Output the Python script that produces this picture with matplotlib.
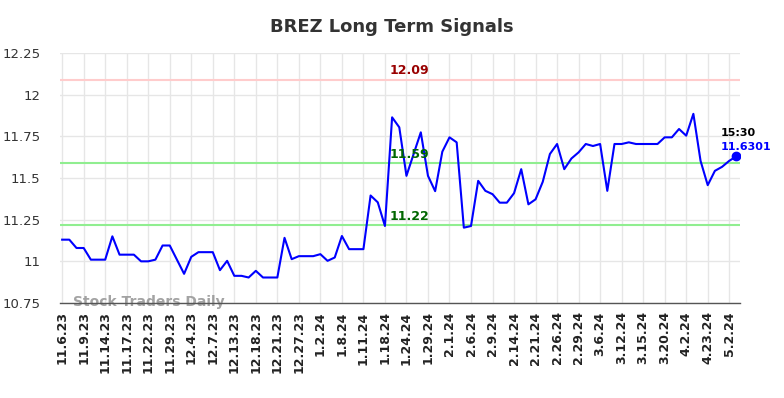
import matplotlib
matplotlib.use("Agg")
import matplotlib.pyplot as plt
from matplotlib.ticker import FuncFormatter

title = "BREZ Long Term Signals"
prices = [
    11.13, 11.13, 11.08, 11.08, 11.01, 11.01, 11.01, 11.15, 11.04, 11.04,
    11.04, 11.00, 11.00, 11.01, 11.095, 11.095, 11.01, 10.925, 11.027, 11.055,
    11.055, 11.055, 10.947, 11.003, 10.913, 10.913, 10.903, 10.943, 10.903, 10.903,
    10.903, 11.141, 11.013, 11.031, 11.031, 11.031, 11.043, 11.003, 11.023, 11.152,
    11.073, 11.073, 11.073, 11.395, 11.354, 11.212, 11.864, 11.804, 11.513, 11.644,
    11.774, 11.513, 11.421, 11.658, 11.744, 11.714, 11.202, 11.212, 11.483, 11.423,
    11.403, 11.352, 11.352, 11.409, 11.553, 11.342, 11.372, 11.477, 11.644, 11.704,
    11.553, 11.617, 11.654, 11.704, 11.692, 11.704, 11.423, 11.704, 11.704, 11.714,
    11.704, 11.704, 11.704, 11.704, 11.744, 11.744, 11.794, 11.754, 11.885, 11.603,
    11.457, 11.543, 11.567, 11.603, 11.6301,
]
tick_labels = [
    "11.6.23", "11.9.23", "11.14.23", "11.17.23", "11.22.23", "11.29.23",
    "12.4.23", "12.7.23", "12.13.23", "12.18.23", "12.21.23", "12.27.23",
    "1.2.24", "1.8.24", "1.11.24", "1.18.24", "1.24.24", "1.29.24",
    "2.1.24", "2.6.24", "2.9.24", "2.14.24", "2.21.24", "2.26.24",
    "2.29.24", "3.6.24", "3.12.24", "3.15.24", "3.20.24", "4.2.24",
    "4.23.24", "5.2.24",
]
tick_step = 3
resistance = 12.09
supports = [11.59, 11.22]
last_time = "15:30"
last_value_label = "11.6301"
y_ticks = [10.75, 11.0, 11.25, 11.5, 11.75, 12.0, 12.25]

fig = plt.figure(figsize=(7.84, 3.98), dpi=100)
ax = fig.add_axes([60 / 784, 1 - 303 / 398, 680 / 784, 250 / 398])

x = list(range(len(prices)))
ax.set_xlim(-0.3, len(prices) - 0.5)
ax.set_ylim(y_ticks[0], y_ticks[-1])

ax.set_yticks(y_ticks)
ax.yaxis.set_major_formatter(FuncFormatter(lambda v, p: f"{v:g}"))
ticks = [i * tick_step for i in range(len(tick_labels))]
ax.set_xticks(ticks)
ax.set_xticklabels(tick_labels, rotation=90, fontweight="bold", fontsize=9, color="#222222")
ax.tick_params(axis="y", labelsize=9.5, colors="#333333", length=0, pad=14)
ax.tick_params(axis="x", length=0, pad=6)

ax.grid(True, color="#e6e6e6", linewidth=1)
ax.set_axisbelow(True)
for s in ["top", "right", "left"]:
    ax.spines[s].set_visible(False)
ax.spines["bottom"].set_color("#555555")
ax.spines["bottom"].set_linewidth(1)

ax.axhline(resistance, color="#ffcccc", linewidth=1.5, zorder=1)
for s in supports:
    ax.axhline(s, color="#90ee90", linewidth=1.5, zorder=1)

ax.plot(x, prices, color="blue", linewidth=1.5, zorder=3)
ax.plot(x[-1], prices[-1], "o", color="blue", markersize=6, zorder=4)

label_x = 45.6
ax.text(label_x, resistance + 0.015, f"{resistance:.2f}", color="#990000",
        fontweight="bold", fontsize=9, ha="left", va="bottom")
for s in supports:
    ax.text(label_x, s + 0.012, f"{s:.2f}", color="#006600",
            fontweight="bold", fontsize=9, ha="left", va="bottom")

ax.annotate(last_time, (x[-1], prices[-1]), xytext=(-11, 16.5), textcoords="offset points",
            fontsize=8, fontweight="bold", color="black", ha="left", va="center")
ax.annotate(last_value_label, (x[-1], prices[-1]), xytext=(-11, 7), textcoords="offset points",
            fontsize=8, fontweight="bold", color="blue", ha="left", va="center")

ax.text(1.5, 10.757, "Stock Traders Daily", color="#999999", fontsize=10,
        fontweight="bold", ha="left", va="center", alpha=0.9, zorder=2)

fig.suptitle(title, x=0.5, y=1 - 27 / 398, va="center", fontsize=13,
             fontweight="bold", color="#333333")

fig.savefig("out.png", dpi=100)
